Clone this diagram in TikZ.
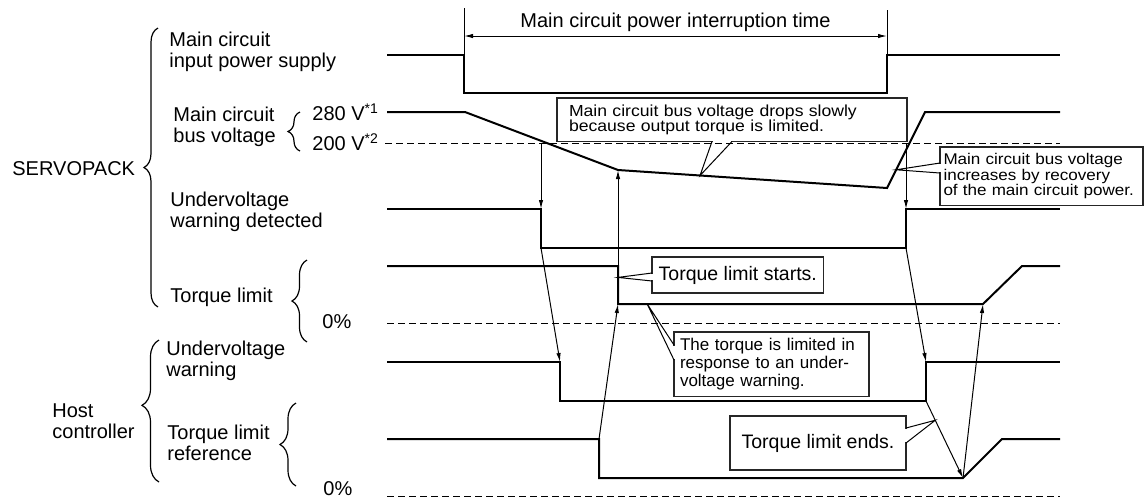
\documentclass[tikz,border=0pt]{standalone}
\usepackage{fontspec}
\setmainfont{Liberation Sans}
\newfontfamily\widefont[FakeStretch=1.1]{Liberation Sans}
\usetikzlibrary{arrows.meta, calc, decorations.pathreplacing}

\begin{document}
\begin{tikzpicture}[
        x=0.5pt, y=-0.5pt,
        sig/.style={anchor=west, inner sep=0pt, align=left, font=\fontsize{10}{10.5}\selectfont},
        wave/.style={line width=1pt, line join=miter},
        level/.style={line width=0.5pt, dash pattern=on 3.5pt off 2pt},
        cause/.style={-{Latex[length=4.5pt, width=2.2pt]}, line width=0.5pt},
        span/.style={{Latex[length=4.5pt, width=2.2pt]}-{Latex[length=4.5pt, width=2.2pt]}, line width=0.5pt},
        curly/.style={decorate, decoration={brace, amplitude=#1}, line width=0.6pt},
        note/.style={draw=black!85, fill=white, line width=0.6pt, anchor=north west, outer sep=0pt, align=left},
        pointer/.style={line width=0.5pt}
    ]
        \useasboundingbox (0,0) rectangle (1144,500);

        % Signal names
        \node[sig] (servo) at (12,169) {SERVOPACK};
        \node[sig] (host) at (52,421) {Host\\controller};
        \node[sig] (supply) at (169,52) {Main circuit\\input power supply};
        \node[sig] (bus) at (173,127) {Main circuit\\bus voltage};
        \node[sig] (v280) at (312,112) {280 V\textsuperscript{*1}};
        \node[sig] (v200) at (312,142) {200 V\textsuperscript{*2}};
        \node[sig] (uvd) at (170,212) {Undervoltage\\warning detected};
        \node[sig] (tl) at (170,297) {Torque limit};
        \node[sig] (tlzero) at (322,322) {0\%};
        \node[sig] (uvw) at (166,361) {Undervoltage\\warning};
        \node[sig] (tlr) at (167,443) {Torque limit\\reference};
        \node[sig] (tlrzero) at (323,489) {0\%};

        % Braces
        \draw[curly=7pt] (158,307) -- (158,28);
        \draw[curly=8.5pt, decoration={aspect=0.54}] (159,482) -- (159,340);
        \draw[curly=6pt] (300,151) -- (300,112);
        \draw[curly=7.5pt] (307,342) -- (307,260);
        \draw[curly=8pt] (296,486) -- (296,403);

        % Reference levels
        \draw[level] (385,143) coordinate (th) -- (1060,143);
        \draw[level] (387,323) -- (1060,323);
        \draw[level] (387,496) -- (1060,496);

        % Waveforms
        \draw[wave] (387,55) -- (464,55) coordinate (pw fall) -- (464,93) -- (887,93) -- (887,55) coordinate (pw rise) -- (1060,55);
        \draw[wave] (387,112) -- (465,112) -- (618,170) coordinate (bus knee) -- (887,188) coordinate (bus low)
            -- (925,112) coordinate (bus high) -- (1060,112);
        \draw[wave] (387,209) -- (541,209) coordinate (uvd fall top) -- (541,248) coordinate (uvd fall bot)
            -- (906,248) coordinate (uvd rise bot) -- (906,209) coordinate (uvd rise top) -- (1060,209);
        \draw[wave] (387,266) -- (618,266) coordinate (tl fall top) -- (618,304) coordinate (tl fall bot)
            -- (983,304) coordinate (tl ramp bot) -- (1022,266) -- (1060,266);
        \draw[wave] (387,362) -- (560,362) coordinate (uvw fall top) -- (560,401) coordinate (uvw fall bot)
            -- (926,401) coordinate (uvw rise bot) -- (926,362) coordinate (uvw rise top) -- (1060,362);
        \draw[wave] (387,439) -- (599,439) coordinate (tlr fall top) -- (599,478)
            -- (963,478) coordinate (tlr ramp bot) -- (1002,439) -- (1060,439);

        % Interruption time
        \coordinate (cut top) at (464,8);
        \coordinate (back top) at (887,10);
        \coordinate (cut) at (464,36);
        \coordinate (back) at (887,36);
        \draw[pointer] (cut top) -- (pw fall);
        \draw[pointer] (back top) -- (pw rise);
        \draw[span] (cut) -- node[above=2pt, inner sep=0pt, font=\fontsize{10}{10.5}\selectfont] {Main circuit power interruption time} (back);

        % Cause and effect
        \draw[cause] (uvd fall top |- th) -- (uvd fall top);
        \draw[cause] (uvd fall bot) -- (uvw fall top);
        \draw[cause] (tlr fall top) -- (tl fall bot);
        \draw[cause] (tl fall top) -- (bus knee);
        \draw[cause] (uvd rise top |- th) -- (uvd rise top);
        \draw[cause] (uvd rise bot) -- (uvw rise top);
        \draw[cause] (uvw rise bot) -- (tlr ramp bot);
        \draw[cause] (tlr ramp bot) -- (tl ramp bot);

        % Notes
        \node[note, text width=163pt, inner xsep=6pt, minimum height=19.5pt, font=\widefont\fontsize{8}{7.6}\selectfont] (slow) at (557,98)
            {Main circuit bus voltage drops slowly\\because output torque is limited.};
        \node[note, text width=98pt, inner xsep=1.75pt, minimum height=28pt, font=\widefont\fontsize{7.75}{7.75}\selectfont] (recover) at (940,147)
            {Main circuit bus voltage\\increases by recovery\\of the main circuit power.};
        \node[note, minimum width=85.5pt, minimum height=18pt, font=\fontsize{9.75}{10}\selectfont] (starts) at (652,257) {Torque limit starts.};
        \node[note, text width=91.5pt, inner xsep=3pt, minimum height=31.5pt, font=\fontsize{8.5}{8.75}\selectfont] (limited) at (674,332)
            {The torque is limited in\\response to an under-\\voltage warning.};
        \node[note, minimum width=88pt, minimum height=27pt, font=\fontsize{9.75}{10}\selectfont] (ends) at (730,416) {Torque limit ends.};

        % Note pointers
        \coordinate (bus slow) at ($(bus knee)!0.305!(bus low)$);
        \coordinate (bus up) at ($(bus low)!0.24!(bus high)$);
        \coordinate (tl mark) at ($(tl fall top)!0.3!(tl fall bot)$);
        \coordinate (tl hold) at ($(tl fall bot)!0.08!(tl ramp bot)$);
        \coordinate (ends tip) at ($(uvw rise bot)!0.25!(tlr ramp bot)$);

        \draw[white, line width=1pt] ([xshift=78pt]slow.south west) -- ([xshift=87pt]slow.south west);
        \draw[pointer] ([xshift=77.5pt]slow.south west) -- (bus slow) -- ([xshift=87.5pt]slow.south west);
        \draw[white, line width=1pt] ([yshift=-8.5pt]recover.north west) -- ([yshift=-12.5pt]recover.north west);
        \draw[pointer] ([yshift=-8pt]recover.north west) -- (bus up) -- ([yshift=-13pt]recover.north west);
        \draw[white, line width=1pt] ([yshift=-8.5pt]starts.north west) -- ([yshift=-11.5pt]starts.north west);
        \draw[pointer] ([yshift=-8pt]starts.north west) -- (tl mark) -- ([yshift=-12pt]starts.north west);
        \draw[white, line width=1pt] ([yshift=-7pt]limited.north west) -- ([yshift=-13.5pt]limited.north west);
        \draw[pointer] ([yshift=-6.5pt]limited.north west) -- (tl hold) -- ([yshift=-14pt]limited.north west);
        \draw[white, line width=1pt] ([yshift=-6.5pt]ends.north east) -- ([yshift=-13pt]ends.north east);
        \draw[pointer] ([yshift=-6pt]ends.north east) -- (ends tip) -- ([yshift=-13.5pt]ends.north east);
    \end{tikzpicture}
\end{document}
